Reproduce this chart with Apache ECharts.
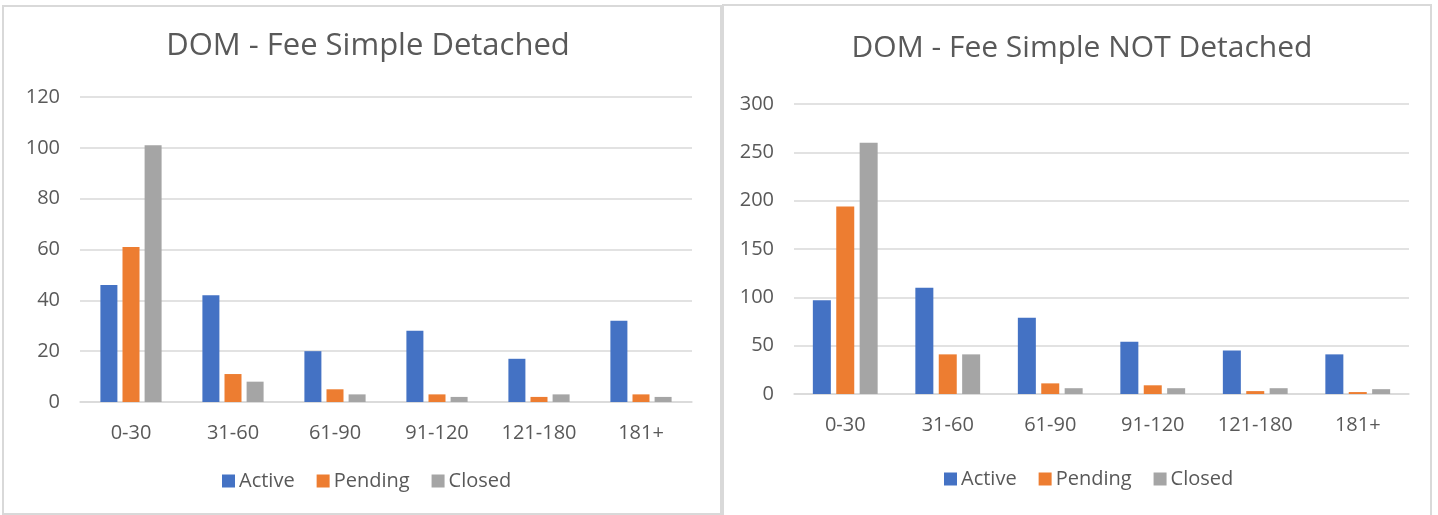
<!DOCTYPE html>
<html>
<head>
<meta charset="utf-8">
<script src="https://cdn.jsdelivr.net/npm/echarts@6/dist/echarts.min.js"></script>
<style>
html, body { margin: 0; padding: 0; background: #fff; }
#chart { width: 1438px; height: 515px; }
</style>
</head>
<body>
<div id="chart"></div>
<script>
var categories = ['0-30', '31-60', '61-90', '91-120', '121-180', '181+'];
var seriesNames = ['Active', 'Pending', 'Closed'];
var colors = ['#4472C4', '#ED7D31', '#A5A5A5'];

// DOM - Fee Simple Detached
var detActive = [46, 42, 20, 28, 17, 32];
var detPending = [61, 11, 5, 3, 2, 3];
var detClosed = [101, 8, 3, 2, 3, 2];

// DOM - Fee Simple NOT Detached
var notActive = [97, 110, 79, 54, 45, 41];
var notPending = [194, 41, 11, 9, 3, 2];
var notClosed = [260, 41, 6, 6, 6, 5];

var font = '"Open Sans", "Noto Sans", sans-serif';
var textColor = '#595959';
var gridColor = '#D9D9D9';

var chart = echarts.init(document.getElementById('chart'));

function xAxisFor(idx) {
    return {
        type: 'category',
        gridIndex: idx,
        data: categories,
        axisTick: { show: false },
        axisLine: { lineStyle: { color: gridColor, width: 1.5 } },
        axisLabel: { color: textColor, fontFamily: font, fontSize: 20, margin: 21 }
    };
}

function yAxisFor(idx, max, interval) {
    return {
        type: 'value',
        gridIndex: idx,
        min: 0,
        max: max,
        interval: interval,
        axisLine: { show: false },
        axisTick: { show: false },
        axisLabel: { color: textColor, fontFamily: font, fontSize: 20, margin: 20 },
        splitLine: { lineStyle: { color: gridColor, width: 1.5 } }
    };
}

function bar(name, data, idx, color, width) {
    return {
        name: name,
        type: 'bar',
        xAxisIndex: idx,
        yAxisIndex: idx,
        data: data,
        barWidth: width,
        barGap: '30%',
        itemStyle: { color: color },
        emphasis: { disabled: true }
    };
}

function legendFor(left, top) {
    return {
        left: left,
        top: top,
        data: seriesNames,
        icon: 'rect',
        itemWidth: 13,
        itemHeight: 13,
        itemGap: 22,
        textStyle: { color: textColor, fontFamily: font, fontSize: 20, padding: [0, 0, 0, -1] }
    };
}

var option = {
    animation: false,
    title: [
        {
            text: 'DOM - Fee Simple Detached',
            left: 363,
            top: 26,
            textAlign: 'center',
            textStyle: { color: textColor, fontFamily: font, fontSize: 31, fontWeight: 'normal' }
        },
        {
            text: 'DOM - Fee Simple NOT Detached',
            left: 1077,
            top: 28,
            textAlign: 'center',
            textStyle: { color: textColor, fontFamily: font, fontSize: 30, fontWeight: 'normal' }
        }
    ],
    legend: [legendFor(217, 466), legendFor(939, 464)],
    grid: [
        { left: 80, right: 746, top: 97, bottom: 113 },
        { left: 794, right: 29, top: 104, bottom: 121 }
    ],
    xAxis: [xAxisFor(0), xAxisFor(1)],
    yAxis: [yAxisFor(0, 120, 20), yAxisFor(1, 300, 50)],
    series: [
        bar('Active', detActive, 0, colors[0], 17),
        bar('Pending', detPending, 0, colors[1], 17),
        bar('Closed', detClosed, 0, colors[2], 17),
        bar('Active', notActive, 1, colors[0], 18),
        bar('Pending', notPending, 1, colors[1], 18),
        bar('Closed', notClosed, 1, colors[2], 18)
    ],
    graphic: [
        {
            type: 'rect',
            shape: { x: 3, y: 6, width: 718, height: 508 },
            style: { fill: 'none', stroke: gridColor, lineWidth: 2 }
        },
        {
            type: 'rect',
            shape: { x: 723, y: 5, width: 708, height: 512 },
            style: { fill: 'none', stroke: gridColor, lineWidth: 2 }
        }
    ]
};

chart.setOption(option);
</script>
</body>
</html>
